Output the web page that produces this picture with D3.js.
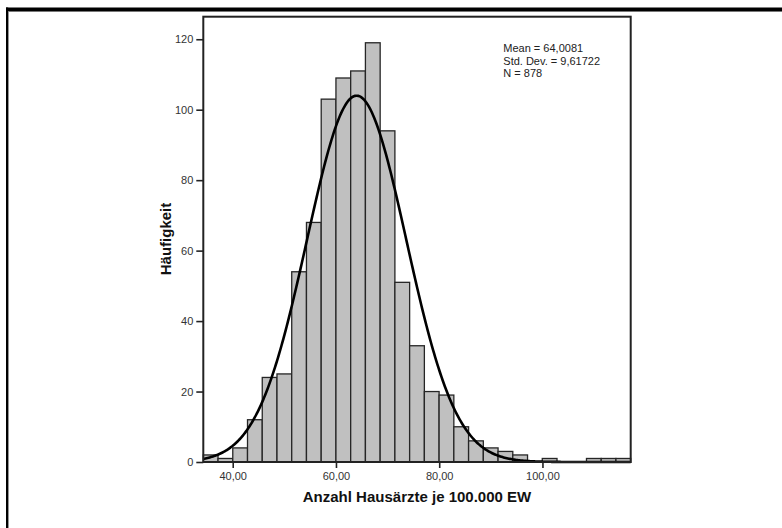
<!DOCTYPE html>
<html>
<head>
<meta charset="utf-8">
<script src="https://cdn.jsdelivr.net/npm/d3@7"></script>
<style>
  html, body { margin: 0; padding: 0; background: #fff; }
  svg { display: block; }
  text { font-family: "Liberation Sans", Arial, sans-serif; }
</style>
</head>
<body>
<svg id="chart" width="782" height="528"></svg>
<script>
// ---- data ----
const binStart = 34.30;
const binWidth = 2.855;
const binCounts = [2, 1, 4, 12, 24, 25, 54, 68, 103, 109, 111, 119, 94, 51, 33, 20, 19, 10, 6, 4, 3, 2, 0, 1, 0, 0, 1, 1, 1];
const xTicks = [40, 60, 80, 100];
const yTicks = [0, 20, 40, 60, 80, 100, 120];
const statLabels = ["Mean = 64,0081", "Std. Dev. = 9,61722", "N = 878"];
const meanVal = 64.0081;
const sdVal = 9.61722;
const nVal = 878;
const xTitle = "Anzahl Hausärzte je 100.000 EW";
const yTitle = "Häufigkeit";

// ---- layout ----
const pLeft = 203.3, pRight = 630.7, pTop = 16.7, pBottom = 462;
const svg = d3.select("#chart");

const xMax = binStart + binWidth * binCounts.length;
const x = d3.scaleLinear().domain([binStart, xMax]).range([pLeft, pRight]);
const y = d3.scaleLinear().domain([0, 126.4]).range([pBottom, pTop]);

// outer frame (top and left edges)
svg.append("rect").attr("x", 6).attr("y", 7.5).attr("width", 782 - 6).attr("height", 3.5).attr("fill", "#000");
svg.append("rect").attr("x", 6).attr("y", 11).attr("width", 782 - 6).attr("height", 1).attr("fill", "#777");
svg.append("rect").attr("x", 6).attr("y", 7.5).attr("width", 2.2).attr("height", 528).attr("fill", "#000");
svg.append("rect").attr("x", 8.2).attr("y", 11).attr("width", 0.8).attr("height", 528).attr("fill", "#888");

// bars
const bins = binCounts.map((c, i) => ({ x0: binStart + i * binWidth, x1: binStart + (i + 1) * binWidth, c }));
svg.append("g").selectAll("rect").data(bins.filter(d => d.c > 0)).join("rect")
  .attr("x", d => x(d.x0))
  .attr("y", d => y(d.c))
  .attr("width", d => x(d.x1) - x(d.x0))
  .attr("height", d => y(0) - y(d.c))
  .attr("fill", "#c0c0c0")
  .attr("stroke", "#262626")
  .attr("stroke-width", 1.3);

// normal curve
const scaleFactor = nVal * binWidth / (sdVal * Math.sqrt(2 * Math.PI));
const curvePts = d3.range(0, 401).map(i => {
  const v = binStart + (xMax - binStart) * i / 400;
  return [v, scaleFactor * Math.exp(-0.5 * Math.pow((v - meanVal) / sdVal, 2))];
});
svg.append("path")
  .datum(curvePts)
  .attr("d", d3.line().x(d => x(d[0])).y(d => y(d[1])))
  .attr("fill", "none")
  .attr("stroke", "#000")
  .attr("stroke-width", 2.6);

// plot frame
svg.append("rect")
  .attr("x", pLeft).attr("y", pTop)
  .attr("width", pRight - pLeft).attr("height", pBottom - pTop)
  .attr("fill", "none").attr("stroke", "#222").attr("stroke-width", 2);

// axes
const xAxis = d3.axisBottom(x).tickValues(xTicks).tickSize(6).tickPadding(4)
  .tickFormat(d => d3.format(".2f")(d).replace(".", ","));
const gx = svg.append("g").attr("transform", `translate(0,${pBottom})`).call(xAxis);
gx.select(".domain").remove();
gx.selectAll(".tick line").attr("stroke", "#222").attr("stroke-width", 1.6);
gx.selectAll(".tick text").attr("font-size", 11).attr("fill", "#333")
  .attr("font-family", "Liberation Sans, Arial, sans-serif");

const yAxis = d3.axisLeft(y).tickValues(yTicks).tickSize(7).tickPadding(3);
const gy = svg.append("g").attr("transform", `translate(${pLeft},0)`).call(yAxis);
gy.select(".domain").remove();
gy.selectAll(".tick line").attr("stroke", "#222").attr("stroke-width", 1.6);
gy.selectAll(".tick text").attr("font-size", 11).attr("fill", "#333")
  .attr("font-family", "Liberation Sans, Arial, sans-serif");

// titles
svg.append("text")
  .attr("x", (pLeft + pRight) / 2).attr("y", 502)
  .attr("text-anchor", "middle")
  .attr("font-size", 15).attr("font-weight", "bold").attr("fill", "#111")
  .text(xTitle);
svg.append("text")
  .attr("transform", `translate(171,239) rotate(-90)`)
  .attr("text-anchor", "middle")
  .attr("font-size", 15).attr("font-weight", "bold").attr("fill", "#111")
  .text(yTitle);

// statistics
svg.append("g").selectAll("text").data(statLabels).join("text")
  .attr("x", 503.3)
  .attr("y", (d, i) => 52.3 + i * 12.5)
  .attr("font-size", 11).attr("fill", "#222")
  .text(d => d);
</script>
</body>
</html>
